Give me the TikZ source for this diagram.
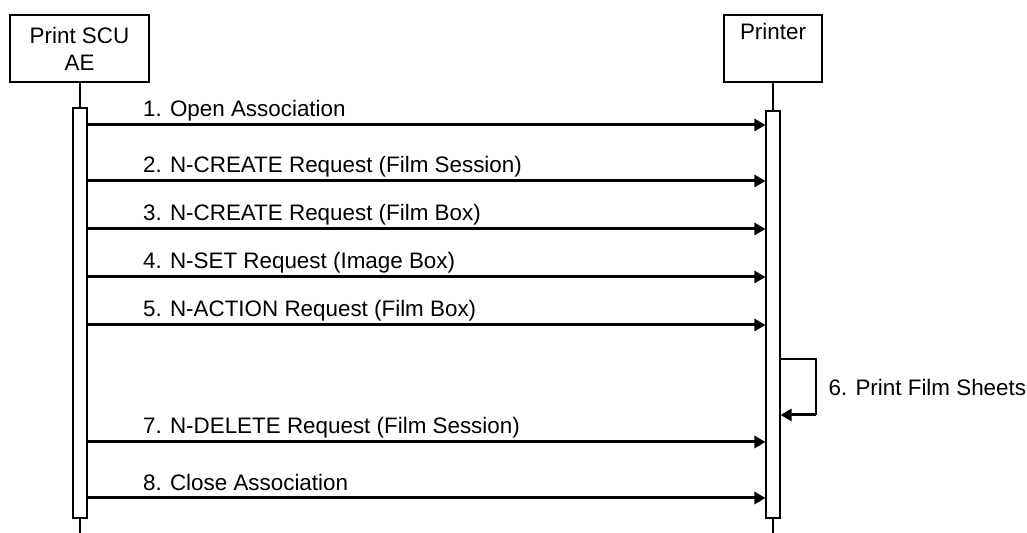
\documentclass[tikz,border=0pt]{standalone}
\usepackage{fontspec}
\setmainfont{Liberation Sans}
\usetikzlibrary{arrows.meta}
\usetikzlibrary{calc}

\begin{document}
\begin{tikzpicture}[x=0.5pt, y=-0.5pt]
            \tikzset{actor/.style={draw, line width=0.55pt, minimum width=#1, minimum height=33.5pt, inner sep=0pt, align=center, font={\fontsize{11.2}{13.5}\selectfont}}}
            \tikzset{bar/.style={draw, line width=0.55pt, fill=white, minimum width=7pt, inner sep=0pt}}
            \tikzset{msg/.style={line width=1.5pt, -{Triangle[length=5.5pt, width=6pt]}}}
            \tikzset{lbl/.style={anchor=base west, inner sep=0pt, xshift=27pt, yshift=4pt, font={\fontsize{11.2}{13.5}\selectfont}}}
            \useasboundingbox (0, 0) rectangle (1027, 533);
            \node[actor=69.5pt] (scu) at (79.5, 48.5) {Print SCU\\AE};
            \node[actor=49pt] (printer) at (773, 48.5) {Printer\\\strut};
            \coordinate (scuend) at (80, 533);
            \coordinate (prtend) at (773, 533);
            \draw[line width=0.55pt] (scu.south -| scuend) -- (scuend);
            \draw[line width=0.55pt] (printer.south) -- (prtend);
            \node[bar, minimum height=205pt] (scubar) at (80, 313) {};
            \node[bar, minimum height=203.5pt] (prtbar) at (773, 314.5) {};
            
            \coordinate (m1) at (0, 125);
            \coordinate (m2) at (0, 181);
            \coordinate (m3) at (0, 229);
            \coordinate (m4) at (0, 277);
            \coordinate (m5) at (0, 325);
            \coordinate (m7) at (0, 442);
            \coordinate (m8) at (0, 498);
            \draw[msg] (scubar.east |- m1) -- (prtbar.west |- m1) node[lbl, pos=0] {1. Open Association};
            \draw[msg] (scubar.east |- m2) -- (prtbar.west |- m2) node[lbl, pos=0] {2. N-CREATE Request (Film Session)};
            \draw[msg] (scubar.east |- m3) -- (prtbar.west |- m3) node[lbl, pos=0] {3. N-CREATE Request (Film Box)};
            \draw[msg] (scubar.east |- m4) -- (prtbar.west |- m4) node[lbl, pos=0] {4. N-SET Request (Image Box)};
            \draw[msg] (scubar.east |- m5) -- (prtbar.west |- m5) node[lbl, pos=0] {5. N-ACTION Request (Film Box)};
            \draw[msg] (scubar.east |- m7) -- (prtbar.west |- m7) node[lbl, pos=0] {7. N-DELETE Request (Film Session)};
            \draw[msg] (scubar.east |- m8) -- (prtbar.west |- m8) node[lbl, pos=0] {8. Close Association};
            
            \coordinate (l1) at (816, 359);
            \coordinate (l2) at (816, 415);
            \draw[line width=0.55pt] (prtbar.east |- l1) -- (l1) -- (l2) node[midway, anchor=west, inner sep=0pt, xshift=6pt, font={\fontsize{11.2}{13.5}\selectfont}] {6. Print Film Sheets};
            \draw[msg] (l2) -- (prtbar.east |- l2);
        \end{tikzpicture}
\end{document}
